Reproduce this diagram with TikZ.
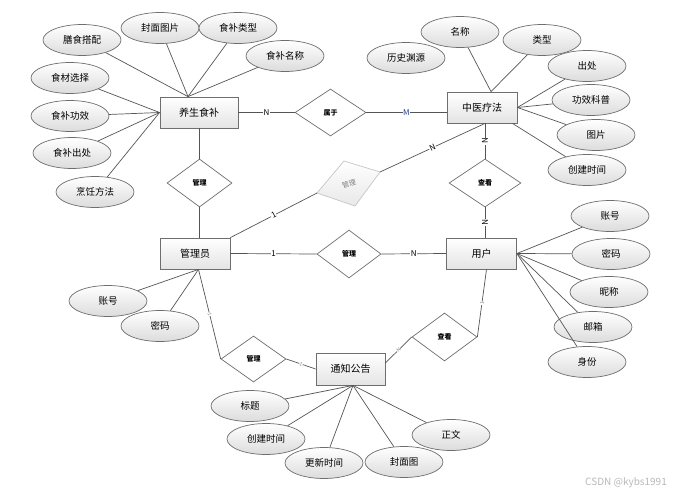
\documentclass[tikz,border=0pt]{standalone}
\usepackage{fontspec}
\setmainfont{Noto Sans CJK SC}
\usetikzlibrary{shapes.geometric,calc}
\definecolor{linec}{HTML}{555555}
\definecolor{boxc}{HTML}{6E6E6E}
\definecolor{rectbot}{HTML}{E4E4E4}
\definecolor{ellbot}{HTML}{DCDCDC}
\definecolor{mblue}{HTML}{1F3F8F}
\begin{document}
\begin{tikzpicture}[x=1pt,y=-1pt,
  ent/.style={draw=boxc, line width=0.8pt, rectangle, minimum width=70pt, minimum height=31pt,
    top color=white, bottom color=rectbot, inner sep=0pt, font=\fontsize{10}{10}\selectfont},
  attr/.style={draw=boxc, line width=0.7pt, ellipse, minimum width=78pt, minimum height=31pt,
    top color=white, bottom color=ellbot, inner sep=0pt, font=\fontsize{9.5}{10}\selectfont},
  rel/.style={draw=boxc, line width=0.7pt, diamond, minimum width=64pt, minimum height=48pt,
    fill=white, inner sep=0pt, font=\bfseries\fontsize{7}{7}\selectfont},
  conn/.style={draw=linec, line width=0.7pt},
  lab/.style={fill=white, inner sep=0.6pt, font=\fontsize{8}{8}\selectfont},
  tlab/.style={fill=white, inner sep=0.3pt, text=gray, font=\fontsize{5}{5}\selectfont}
]
\useasboundingbox (0,0) rectangle (687,497);
\fill[white] (0,0) rectangle (687,497);

% entities
\node[ent, minimum width=78pt] (ys) at (199,112.5) {养生食补};
\node[ent] (zy) at (482,107.5) {中医疗法};
\node[ent] (gly) at (195,253.5) {管理员};
\node[ent] (yh) at (481.5,253.5) {用户};
\node[ent, minimum width=69pt, minimum height=32pt] (tz) at (350.5,369) {通知公告};

% relationships
\node[rel, minimum width=71pt, minimum height=47pt] (r1) at (330.5,112.5) {属于};
\node[rel, minimum width=65pt] (r2) at (199.5,183) {管理};
\node[rel] (r3) at (349,254) {管理};
\node[rel, minimum width=72pt] (r4) at (485,183) {查看};
\node[rel, minimum width=65pt, minimum height=46pt] (r5) at (253.5,359) {管理};
\node[rel, minimum width=65pt] (r6) at (444.5,337) {查看};

% grey rotated relationship
\coordinate (gl) at (317,193);
\coordinate (gt) at (344,161);
\coordinate (gr) at (380,172);
\coordinate (gb) at (355,206);
\shade[top color=white, bottom color=gray!18, draw=gray!45, line width=0.7pt] (gl) -- (gt) -- (gr) -- (gb) -- cycle;
\node[rotate=18, text=gray, font=\fontsize{7}{7}\selectfont, inner sep=0pt] (rg) at (349,183.5) {管理};

% helper coordinates
\coordinate (ysT) at ($(ys.north)+(-11,0)$);
\coordinate (zyT) at ($(zy.north)+(9,0)$);
\coordinate (zyB) at ($(zy.south east)+(-5,0)$);
\coordinate (glb) at ($(gly.south)+(3.5,0)$);
\coordinate (tzE) at ($(tz.east)+(0,-6)$);
\coordinate (tzB) at ($(tz.south)+(2.5,0)$);
\coordinate (yhB) at ($(yh.south)+(5,0)$);

% relationship connectors
\draw[conn] (ys.east) -- node[lab]{N} (r1.west);
\draw[conn] (r1.east) -- node[lab, text=mblue]{M} (r1.east -| zy.west);
\draw[conn] (r2.north) -- (r2.north |- ys.south);
\draw[conn] (r2.south) -- (r2.south |- gly.north);
\draw[conn] (gly.east) -- node[lab]{1} (r3.west);
\draw[conn] (r3.east) -- node[lab]{N} (yh.west);
\draw[conn] (r4.north) -- node[lab, sloped]{N} (r4.north |- zy.south);
\draw[conn] (r4.south) -- node[lab, sloped]{N} (r4.south |- yh.north);
\draw[conn] (gly.north east) -- node[lab, sloped]{1} (gl);
\draw[conn] (gr) -- node[lab, sloped]{N} (r4.north |- zy.south);
\draw[conn] (glb) -- node[tlab, sloped]{1} (r5.west);
\draw[conn] (r5.east) -- node[tlab, sloped]{1} (tz.west);
\draw[conn] (tzE) -- node[tlab, sloped]{N} (r6.west);
\draw[conn] (r6.east) -- node[tlab, sloped]{1} (yhB);

% attributes of 养生食补
\node[attr] (a1) at (82,40) {膳食搭配};
\node[attr] (a2) at (160,28) {封面图片};
\node[attr] (a3) at (238,28) {食补类型};
\node[attr] (a4) at (285,56) {食补名称};
\node[attr] (a5) at (70,78) {食材选择};
\node[attr] (a6) at (70,116) {食补功效};
\node[attr] (a7) at (72,153) {食补出处};
\node[attr] (a8) at (95,192) {烹饪方法};
\foreach \a in {a1,a2,a3,a4} \draw[conn] (\a) -- (ysT);
\foreach \a in {a5,a6,a7,a8} \draw[conn] (\a) -- (ys.west);

% attributes of 中医疗法
\node[attr] (b0) at (406,58) {历史渊源};
\node[attr] (b1) at (460,32) {名称};
\node[attr] (b2) at (542,40) {类型};
\node[attr] (b3) at (587,66) {出处};
\node[attr] (b4) at (591,100) {功效科普};
\node[attr] (b5) at (596,135) {图片};
\node[attr] (b6) at (587,170) {创建时间};
\foreach \a in {b1,b2} \draw[conn] (\a) -- (zyT);
\foreach \a in {b3,b4,b5} \draw[conn] (\a) -- (zy.east);
\draw[conn] (b6) -- (zyB);

% attributes of 用户
\node[attr] (c1) at (610,216) {账号};
\node[attr] (c2) at (611,254) {密码};
\node[attr] (c3) at (609,292) {昵称};
\node[attr] (c4) at (593,327) {邮箱};
\node[attr] (c5) at (587,362) {身份};
\foreach \a in {c1,c2,c3,c4,c5} \draw[conn] (\a) -- (yh.east);

% attributes of 管理员
\node[attr] (d1) at (108,301) {账号};
\node[attr] (d2) at (160,326) {密码};
\foreach \a in {d1,d2} \draw[conn] (\a) -- (glb);

% attributes of 通知公告
\node[attr] (e1) at (250,406) {标题};
\node[attr] (e2) at (266,439) {创建时间};
\node[attr] (e3) at (324,463) {更新时间};
\node[attr] (e4) at (404,462) {封面图};
\node[attr] (e5) at (451,435) {正文};
\foreach \a in {e1,e2,e3,e4,e5} \draw[conn] (\a) -- (tzB);

% watermark
\node[text=gray!55, font=\fontsize{10}{10}\selectfont, inner sep=0pt] (wm) at (626,483) {CSDN @kybs1991};
\end{tikzpicture}
\end{document}
